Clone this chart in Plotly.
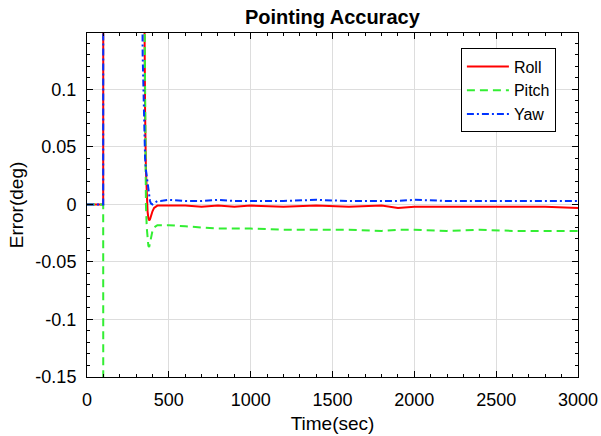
import plotly.graph_objects as go

time = [0, 99, 100, 101, 330, 340, 350, 355, 360, 365, 370, 375, 380, 385, 390, 400, 410, 420, 430,
        450, 500, 600, 700, 800, 900, 1000, 1200, 1400, 1600, 1800, 1900, 2000, 2200, 2400, 2600, 2800, 3000]

roll = [0, 0, 0.6, 0.6, 0.6, 0.4, 0.15, 0.08, 0.03, 0.005, -0.006, -0.012, -0.014, -0.013, -0.010, -0.006,
        -0.003, -0.002, -0.001, -0.001, -0.001, -0.001, -0.002, -0.001, -0.002, -0.001, -0.002, -0.001,
        -0.002, -0.001, -0.003, -0.002, -0.002, -0.002, -0.002, -0.002, -0.003]

pitch = [0, 0, -0.6, None, 0.6, 0.4, 0.15, 0.06, 0.0, -0.02, -0.03, -0.036, -0.037, -0.033, -0.028, -0.023,
         -0.020, -0.019, -0.018, -0.018, -0.018, -0.019, -0.020, -0.021, -0.021, -0.021, -0.022, -0.022,
         -0.022, -0.023, -0.022, -0.022, -0.023, -0.022, -0.023, -0.023, -0.023]

yaw = [0, 0, 0.6, 0.6, 0.4, 0.13, 0.06, 0.04, 0.03, 0.024, 0.019, 0.012, 0.007, 0.003, 0.001, 0.0,
       0.001, 0.002, 0.003, 0.003, 0.004, 0.003, 0.003, 0.004, 0.003, 0.003, 0.003, 0.004, 0.003,
       0.003, 0.003, 0.004, 0.003, 0.003, 0.003, 0.003, 0.003]

x_ticks = [0, 500, 1000, 1500, 2000, 2500, 3000]
y_ticks = [-0.15, -0.1, -0.05, 0, 0.05, 0.1]
y_tick_labels = ["-0.15", "-0.1", "-0.05", "0", "0.05", "0.1"]

font = "Liberation Sans, Arial, sans-serif"

fig = go.Figure()
fig.add_trace(go.Scatter(x=time, y=roll, name="Roll", mode="lines", connectgaps=False,
                         line=dict(color="#ff0000", width=2)))
fig.add_trace(go.Scatter(x=time, y=pitch, name="Pitch", mode="lines", connectgaps=False,
                         line=dict(color="#33ee33", width=2, dash="8px,5px")))
fig.add_trace(go.Scatter(x=time, y=yaw, name="Yaw", mode="lines", connectgaps=False,
                         line=dict(color="#0033ff", width=2, dash="7px,3px,2px,3px")))

axis_common = dict(
    showline=True, linecolor="black", linewidth=1, mirror="allticks",
    ticks="inside", ticklen=6, tickcolor="black", tickwidth=1,
    showgrid=True, gridcolor="#dddddd", gridwidth=1, zeroline=False,
    tickfont=dict(family=font, size=18, color="black"), automargin=False,
)

fig.update_xaxes(range=[0, 3000], tickvals=x_ticks, **axis_common,
                 minor=dict(ticks="inside", ticklen=3, dtick=100, tickcolor="black", showgrid=False),
                 ticklabelstandoff=6,
                 title=dict(text="Time(sec)", font=dict(family=font, size=19, color="black"), standoff=8))
fig.update_yaxes(range=[-0.15, 0.149], tickvals=y_ticks, ticktext=y_tick_labels, **axis_common,
                 minor=dict(ticks="inside", ticklen=3, dtick=0.01, tick0=0, tickcolor="black", showgrid=False),
                 ticklabelstandoff=6,
                 title=dict(text="Error(deg)", font=dict(family=font, size=19, color="black"), standoff=6))

fig.update_layout(
    width=601, height=436,
    margin=dict(l=87, r=23, t=33, b=59, autoexpand=False),
    paper_bgcolor="white", plot_bgcolor="white",
    title=dict(text="<b>Pointing Accuracy</b>", x=0.553, xanchor="center", y=0.96, yanchor="middle",
               font=dict(family=font, size=20, color="black"), automargin=False),
    legend=dict(x=0.955, y=0.955, xanchor="right", yanchor="top",
                bgcolor="white", bordercolor="black", borderwidth=1,
                font=dict(family=font, size=16, color="black"), itemwidth=42,
                tracegroupgap=0),
    showlegend=True,
)

fig.write_html("out.html")
